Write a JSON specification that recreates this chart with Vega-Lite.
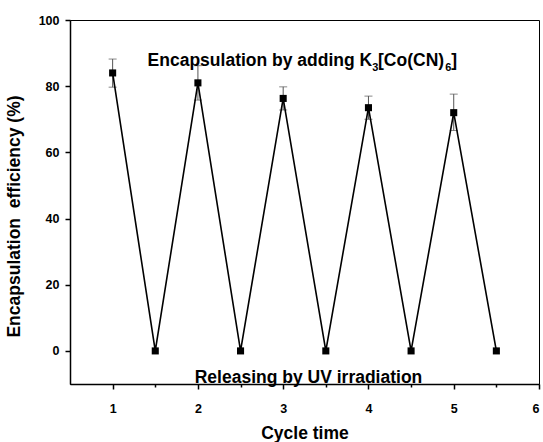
{
  "$schema": "https://vega.github.io/schema/vega-lite/v6.json",
  "width": 469,
  "height": 364,
  "autosize": "none",
  "padding": {"left": 70, "top": 20, "right": 4, "bottom": 58},
  "background": "white",
  "config": {
    "view": {"stroke": "black", "strokeWidth": 1},
    "font": "Liberation Sans",
    "axis": {
      "domainColor": "black",
      "domainWidth": 1.5,
      "tickColor": "black",
      "tickWidth": 1.5,
      "labelColor": "black",
      "labelFont": "Liberation Sans",
      "labelFontWeight": "bold",
      "labelFontSize": 12.5,
      "titleColor": "black",
      "titleFont": "Liberation Sans",
      "titleFontWeight": "bold",
      "titleFontSize": 17.5,
      "grid": false
    }
  },
  "datasets": {
    "series": [
      {"cycle": 1.0, "eff": 84.0},
      {"cycle": 1.5, "eff": 0},
      {"cycle": 2.0, "eff": 81.0},
      {"cycle": 2.5, "eff": 0},
      {"cycle": 3.0, "eff": 76.3},
      {"cycle": 3.5, "eff": 0},
      {"cycle": 4.0, "eff": 73.5},
      {"cycle": 4.5, "eff": 0},
      {"cycle": 5.0, "eff": 72.0},
      {"cycle": 5.5, "eff": 0}
    ],
    "errors": [
      {"cycle": 1, "lo": 79.7, "hi": 88.2},
      {"cycle": 2, "lo": 75.8, "hi": 86.2},
      {"cycle": 3, "lo": 72.8, "hi": 79.8},
      {"cycle": 4, "lo": 70.0, "hi": 77.0},
      {"cycle": 5, "lo": 66.6, "hi": 77.6}
    ],
    "mainText": [
      {"label": "Encapsulation by adding K", "x": 1.41, "y": 86.2},
      {"label": "[Co(CN)", "x": 4.112, "y": 86.2},
      {"label": "]", "x": 4.97, "y": 86.2}
    ],
    "subText": [
      {"label": "3", "x": 4.045, "y": 84.6},
      {"label": "6", "x": 4.9, "y": 84.6}
    ],
    "bottomText": [
      {"label": "Releasing by UV irradiation", "x": 3.297, "y": -9.6}
    ]
  },
  "layer": [
    {
      "data": {"name": "errors"},
      "mark": {"type": "rule", "color": "#555555", "strokeWidth": 1},
      "encoding": {
        "x": {
          "field": "cycle", "type": "quantitative",
          "scale": {"domain": [0.5, 6], "nice": false, "zero": false},
          "axis": {
            "title": "Cycle time",
            "values": [1, 1.5, 2, 2.5, 3, 3.5, 4, 4.5, 5, 5.5, 6],
            "labelExpr": "datum.value % 1 === 0 ? format(datum.value, 'd') : ''",
            "tickSize": {"condition": {"test": "datum.value % 1 !== 0", "value": 3}, "value": 5},
            "labelPadding": 13,
            "titleBaseline": "alphabetic",
            "titleY": 54
          }
        },
        "y": {
          "field": "lo", "type": "quantitative",
          "scale": {"domain": [-10, 100], "nice": false, "zero": false},
          "axis": {
            "title": "Encapsulation\u00a0 efficiency (%)",
            "values": [0, 10, 20, 30, 40, 50, 60, 70, 80, 90, 100],
            "labelExpr": "datum.value % 20 === 0 ? format(datum.value, 'd') : ''",
            "tickSize": {"condition": {"test": "datum.value % 20 !== 0", "value": 3}, "value": 5},
            "labelPadding": 6,
            "titleBaseline": "alphabetic",
            "titleX": -51,
            "titleY": 196,
            "titleAlign": "center",
            "titleAngle": -90
          }
        },
        "y2": {"field": "hi"}
      }
    },
    {
      "data": {"name": "errors"},
      "mark": {"type": "tick", "color": "#555555", "orient": "horizontal", "size": 8, "thickness": 1},
      "encoding": {
        "x": {"field": "cycle", "type": "quantitative"},
        "y": {"field": "lo", "type": "quantitative"}
      }
    },
    {
      "data": {"name": "errors"},
      "mark": {"type": "tick", "color": "#555555", "orient": "horizontal", "size": 8, "thickness": 1},
      "encoding": {
        "x": {"field": "cycle", "type": "quantitative"},
        "y": {"field": "hi", "type": "quantitative"}
      }
    },
    {
      "data": {"name": "series"},
      "mark": {"type": "line", "color": "black", "strokeWidth": 1.6},
      "encoding": {
        "x": {"field": "cycle", "type": "quantitative"},
        "y": {"field": "eff", "type": "quantitative"},
        "order": {"field": "cycle"}
      }
    },
    {
      "data": {"name": "series"},
      "mark": {"type": "point", "shape": "square", "filled": true, "color": "black", "opacity": 1, "size": 50},
      "encoding": {
        "x": {"field": "cycle", "type": "quantitative"},
        "y": {"field": "eff", "type": "quantitative"}
      }
    },
    {
      "data": {"name": "mainText"},
      "mark": {"type": "text", "align": "left", "baseline": "alphabetic", "fontSize": 17.5, "fontWeight": "bold", "font": "Liberation Sans", "color": "black"},
      "encoding": {
        "x": {"field": "x", "type": "quantitative"},
        "y": {"field": "y", "type": "quantitative"},
        "text": {"field": "label"}
      }
    },
    {
      "data": {"name": "subText"},
      "mark": {"type": "text", "align": "left", "baseline": "alphabetic", "fontSize": 11, "fontWeight": "bold", "font": "Liberation Sans", "color": "black"},
      "encoding": {
        "x": {"field": "x", "type": "quantitative"},
        "y": {"field": "y", "type": "quantitative"},
        "text": {"field": "label"}
      }
    },
    {
      "data": {"name": "bottomText"},
      "mark": {"type": "text", "align": "center", "baseline": "alphabetic", "fontSize": 17.5, "fontWeight": "bold", "font": "Liberation Sans", "color": "black"},
      "encoding": {
        "x": {"field": "x", "type": "quantitative"},
        "y": {"field": "y", "type": "quantitative"},
        "text": {"field": "label"}
      }
    }
  ]
}
